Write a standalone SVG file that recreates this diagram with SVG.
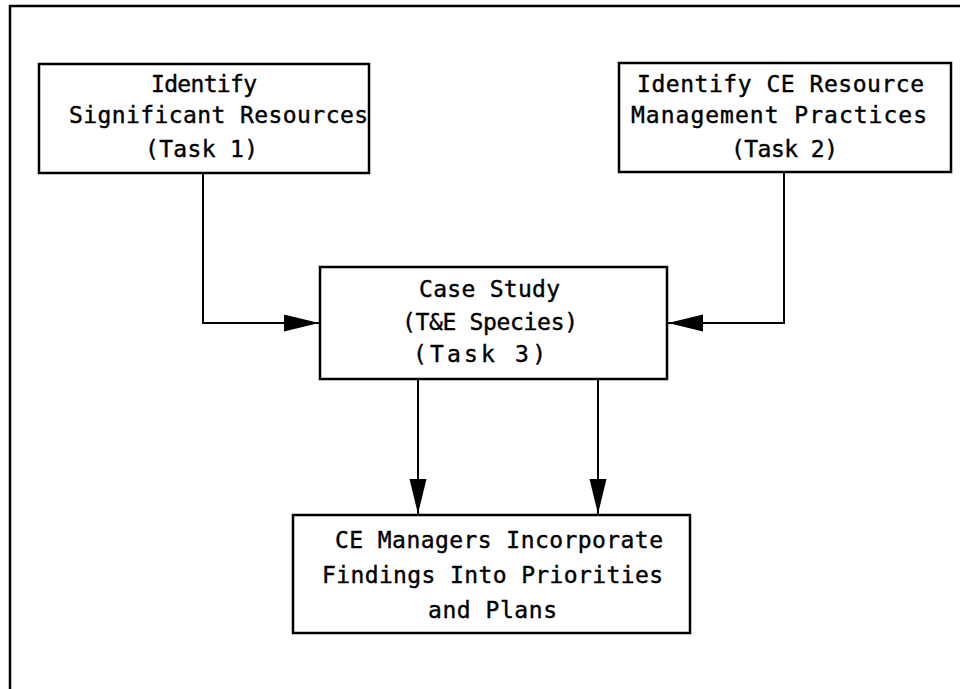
<svg xmlns="http://www.w3.org/2000/svg" width="967" height="689" viewBox="0 0 967 689">
<defs>
<style>
.box{fill:#fff;stroke:#000;stroke-width:2.5}
.lbl{font-family:"DejaVu Sans Mono","Liberation Mono",monospace;font-size:23px;fill:#000;stroke:#000;stroke-width:0.4}
.conn{fill:none;stroke:#000;stroke-width:2}
.frame{fill:none;stroke:#000;stroke-width:2.5}
</style>
<marker id="arr" markerUnits="userSpaceOnUse" markerWidth="36" markerHeight="18" refX="35" refY="8.5" orient="auto">
<path d="M0,0 L35,8.5 L0,17 Z" fill="#000"/>
</marker>
</defs>
<rect width="967" height="689" fill="#fff"/>
<path class="frame" d="M10,689 V6 H960"/>
<g id="connectors">
<path class="conn" d="M203,173 V323 H319" marker-end="url(#arr)"/>
<path class="conn" d="M784,172 V323 H668" marker-end="url(#arr)"/>
<path class="conn" d="M418,379 V514" marker-end="url(#arr)"/>
<path class="conn" d="M598,379 V514" marker-end="url(#arr)"/>
</g>
<g id="task1">
<rect class="box" x="39" y="64" width="330" height="109"/>
<text class="lbl" x="151" y="92" textLength="106" lengthAdjust="spacing">Identify</text>
<text class="lbl" x="69" y="123" textLength="299" lengthAdjust="spacing">Significant Resources</text>
<text class="lbl" x="145" y="157" textLength="113" lengthAdjust="spacing">(Task 1)</text>
</g>
<g id="task2">
<rect class="box" x="619" y="63" width="332" height="109"/>
<text class="lbl" x="637" y="92" textLength="287" lengthAdjust="spacing">Identify CE Resource</text>
<text class="lbl" x="631" y="123" textLength="296" lengthAdjust="spacing">Management Practices</text>
<text class="lbl" x="731" y="157" textLength="107" lengthAdjust="spacing">(Task 2)</text>
</g>
<g id="task3">
<rect class="box" x="320" y="267" width="347" height="112"/>
<text class="lbl" x="419" y="297" textLength="141" lengthAdjust="spacing">Case Study</text>
<text class="lbl" x="402" y="330" textLength="176" lengthAdjust="spacing">(T&amp;E Species)</text>
<text class="lbl" x="413" y="362" textLength="133" lengthAdjust="spacing">(Task 3)</text>
</g>
<g id="managers">
<rect class="box" x="293" y="515" width="397" height="118"/>
<text class="lbl" x="335" y="548" textLength="328" lengthAdjust="spacing">CE Managers Incorporate</text>
<text class="lbl" x="322" y="583" textLength="341" lengthAdjust="spacing">Findings Into Priorities</text>
<text class="lbl" x="428" y="618" textLength="129" lengthAdjust="spacing">and Plans</text>
</g>
</svg>
